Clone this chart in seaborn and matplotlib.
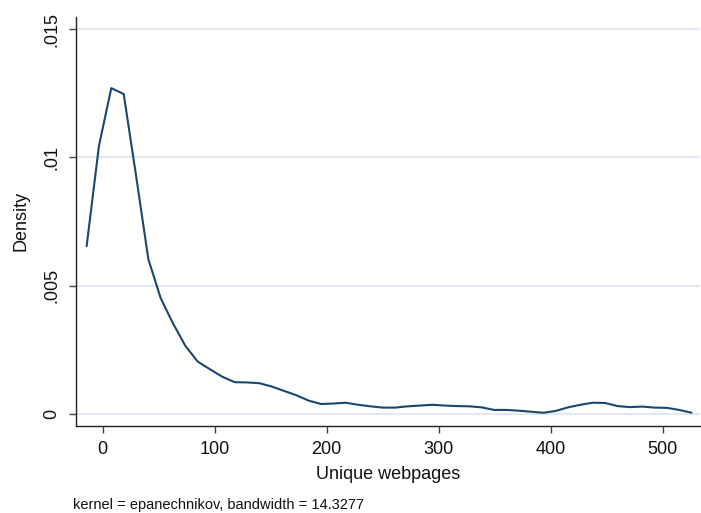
import matplotlib
matplotlib.use("Agg")
import matplotlib.pyplot as plt
import seaborn as sns
import pandas as pd

webpages = [-14.3, -3.3, 7.7, 18.8, 29.8, 40.8, 51.8, 62.8, 73.9, 84.9,
            95.9, 106.9, 117.9, 129.0, 140.0, 151.0, 162.0, 173.0, 184.0, 195.1,
            206.1, 217.1, 228.1, 239.1, 250.2, 261.2, 272.2, 283.2, 294.3, 305.3,
            316.3, 327.3, 338.3, 349.4, 360.4, 371.4, 382.4, 393.5, 404.5, 415.5,
            426.5, 437.5, 448.6, 459.6, 470.6, 481.6, 492.7, 503.7, 514.7, 525.7]
density = [0.00655, 0.01045, 0.01270, 0.01247, 0.00930, 0.00604, 0.00452, 0.00354, 0.00266, 0.00205,
           0.00175, 0.00146, 0.00125, 0.00124, 0.00121, 0.00108, 0.00091, 0.00074, 0.00053, 0.00040,
           0.00042, 0.00045, 0.00037, 0.00031, 0.00026, 0.00026, 0.00031, 0.00034, 0.00037, 0.00034,
           0.00032, 0.00031, 0.00027, 0.00017, 0.00017, 0.00014, 0.00010, 0.00006, 0.00013, 0.00027,
           0.00037, 0.00045, 0.00044, 0.00032, 0.00028, 0.00030, 0.00026, 0.00025, 0.00017, 0.00006]

x_ticks = [0, 100, 200, 300, 400, 500]
y_ticks = [0, 0.005, 0.01, 0.015]
y_tick_labels = ["0", ".005", ".01", ".015"]
x_title = "Unique webpages"
y_title = "Density"
note = "kernel = epanechnikov, bandwidth = 14.3277"

sns.set_theme(style="white")
plt.rcParams['font.family'] = ['Liberation Sans', 'DejaVu Sans']

df = pd.DataFrame({"x": webpages, "y": density})

fig = plt.figure(figsize=(7.01, 5.13), dpi=100)
ax = fig.add_axes([0.1084, 0.1702, 0.8902, 0.7967])

for yt in y_ticks:
    ax.axhline(yt, color="#e1e8f1", lw=1.6, zorder=0)

sns.lineplot(data=df, x="x", y="y", ax=ax, color="#1a476f", lw=1.5, zorder=3)

ax.set_xlim(-23.8, 533.3)
ax.set_ylim(-0.000444, 0.01547)
ax.set_xticks(x_ticks)
ax.set_xticklabels([str(t) for t in x_ticks])
ax.set_yticks(y_ticks)
ax.set_yticklabels(y_tick_labels, rotation=90, va="center")

for s in ["top", "right"]:
    ax.spines[s].set_visible(False)
for s in ["left", "bottom"]:
    ax.spines[s].set_color("#222222")
    ax.spines[s].set_linewidth(1.0)

ax.tick_params(axis="both", which="major", direction="out", length=5, width=1.0,
               color="#444444", labelsize=13, labelcolor="#111111",
               bottom=True, left=True, pad=6)
ax.set_xlabel(x_title, fontsize=13, color="#111111", labelpad=6)
ax.set_ylabel(y_title, fontsize=13, color="#111111", labelpad=10)
ax.grid(False)

fig.text(73 / 701, 1 - 504.5 / 513, note, fontsize=10.5, color="#111111", va="center", ha="left")

fig.savefig("out.png", dpi=100)
